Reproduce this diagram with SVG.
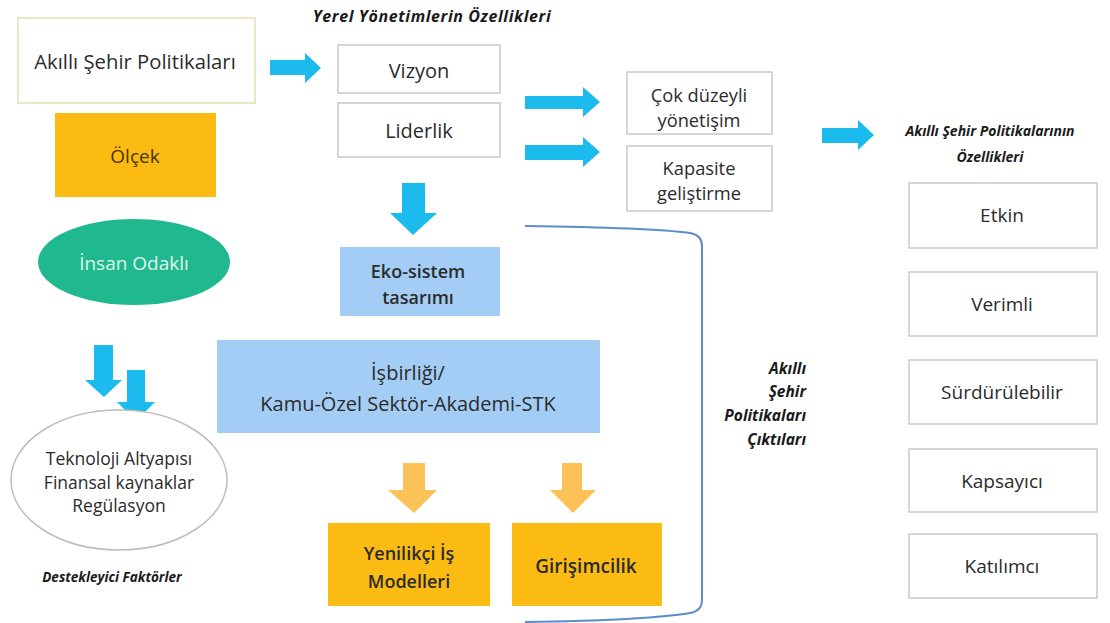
<svg xmlns="http://www.w3.org/2000/svg" width="1110" height="623" viewBox="0 0 1110 623">
  <style>
    .txt { font-family: "Open Sans", Lato, "Liberation Sans", sans-serif; fill: #2b2b2b; text-anchor: middle; dominant-baseline: central; }
    .lbl { font-family: "Open Sans", Lato, "Liberation Sans", sans-serif; font-weight: 700; font-style: italic; fill: #1a1a1a; }
    .plain { fill: #ffffff; stroke: #c9c9c9; stroke-width: 1.5; }
    .blue { fill: #a3cdf4; }
    .amber { fill: #fbbb12; }
    .arrow-blue { fill: #1cbbee; }
    .arrow-amber { fill: #fdc257; }
  </style>

  <rect width="1110" height="623" fill="#ffffff"/>

  <!-- section labels -->
  <text class="lbl" x="432" y="16" font-size="16" letter-spacing="0.6" text-anchor="middle" dominant-baseline="central">Yerel Yönetimlerin  Özellikleri</text>
  <text class="lbl" x="990" y="130" font-size="14" text-anchor="middle" dominant-baseline="central">Akıllı Şehir Politikalarının</text>
  <text class="lbl" x="990" y="156" font-size="14" text-anchor="middle" dominant-baseline="central">Özellikleri</text>
  <text class="lbl" x="112" y="577" font-size="13.5" text-anchor="middle" dominant-baseline="central">Destekleyici Faktörler</text>
  <g class="lbl" font-size="15.5" text-anchor="end" dominant-baseline="central">
    <text x="806" y="368">Akıllı</text>
    <text x="806" y="391">Şehir</text>
    <text x="806" y="415">Politikaları</text>
    <text x="806" y="439">Çıktıları</text>
  </g>

  <!-- connectors -->
  <g id="connectors">
    <!-- bracket around outputs -->
    <path d="M525 226 C600 227 660 229 690 233 Q702 235 702 246 L702 600 Q702 611 690 613 C660 618 600 621 525 622" fill="none" stroke="#5c8dc9" stroke-width="2"/>
    <!-- blue block arrows -->
    <polygon class="arrow-blue" points="270,60 305,60 305,53 321,68 305,83 305,75 270,75"/>
    <polygon class="arrow-blue" points="525,96 583,96 583,87 600,102 583,117 583,109 525,109"/>
    <polygon class="arrow-blue" points="525,145 583,145 583,137 600,152 583,167 583,160 525,160"/>
    <polygon class="arrow-blue" points="822,128 858,128 858,120 874,135 858,150 858,143 822,143"/>
    <polygon class="arrow-blue" points="402,183 425,183 425,213 437,213 413,235 390,213 402,213"/>
    <polygon class="arrow-blue" points="94,345 113,345 113,380 122,380 104,397 85,380 94,380"/>
    <polygon class="arrow-blue" points="127,370 145,370 145,402 155,402 136,421 117,402 127,402"/>
    <!-- amber block arrows -->
    <polygon class="arrow-amber" points="403,463 425,463 425,490 437,490 414,513 388,490 403,490"/>
    <polygon class="arrow-amber" points="562,463 582,463 582,490 596,490 573,513 550,490 562,490"/>
  </g>

  <g id="akilli-sehir-politikalari">
    <rect x="18" y="18" width="237" height="85" fill="#ffffff" stroke="#e6e0b2" stroke-width="1.5"/>
    <text class="txt" x="135" y="61" font-size="20.3">Akıllı Şehir Politikaları</text>
  </g>

  <g id="olcek">
    <rect class="amber" x="55" y="113" width="161" height="84"/>
    <text class="txt" x="135" y="156" font-size="19" style="fill:#4a3300">Ölçek</text>
  </g>

  <g id="insan-odakli">
    <ellipse cx="134" cy="262" rx="96" ry="43" fill="#20b98f"/>
    <text class="txt" x="134" y="263" font-size="19" style="fill:#dff5ea">İnsan Odaklı</text>
  </g>

  <g id="destekleyici">
    <ellipse cx="119" cy="480" rx="108" ry="70" fill="#ffffff" stroke="#bdbdbd" stroke-width="1.5"/>
    <text class="txt" x="119" y="458" font-size="17.5">Teknoloji Altyapısı</text>
    <text class="txt" x="119" y="482" font-size="17.5">Finansal kaynaklar</text>
    <text class="txt" x="119" y="505" font-size="17.5">Regülasyon</text>
  </g>

  <g id="vizyon">
    <rect class="plain" x="338" y="45" width="162" height="48"/>
    <text class="txt" x="419" y="70" font-size="20">Vizyon</text>
  </g>

  <g id="liderlik">
    <rect class="plain" x="338" y="103" width="162" height="54"/>
    <text class="txt" x="419" y="130" font-size="20">Liderlik</text>
  </g>

  <g id="eko-sistem">
    <rect class="blue" x="340" y="247" width="160" height="69"/>
    <text class="txt" x="418" y="271" font-size="18" font-weight="600">Eko-sistem</text>
    <text class="txt" x="418" y="297" font-size="18" font-weight="600">tasarımı</text>
  </g>

  <g id="isbirligi">
    <rect class="blue" x="217" y="340" width="383" height="93"/>
    <text class="txt" x="408" y="372" font-size="20">İşbirliği/</text>
    <text class="txt" x="408" y="403" font-size="20">Kamu-Özel Sektör-Akademi-STK</text>
  </g>

  <g id="yenilikci">
    <rect class="amber" x="328" y="523" width="162" height="83"/>
    <text class="txt" x="409" y="553" font-size="18" font-weight="600">Yenilikçi İş</text>
    <text class="txt" x="409" y="581" font-size="18" font-weight="600">Modelleri</text>
  </g>

  <g id="girisimcilik">
    <rect class="amber" x="512" y="523" width="150" height="83"/>
    <text class="txt" x="586" y="566" font-size="19" font-weight="600">Girişimcilik</text>
  </g>

  <g id="cok-duzeyli">
    <rect class="plain" x="627" y="72" width="145" height="62"/>
    <text class="txt" x="699" y="94" font-size="18.3">Çok düzeyli</text>
    <text class="txt" x="699" y="119" font-size="18.3">yönetişim</text>
  </g>

  <g id="kapasite">
    <rect class="plain" x="627" y="146" width="145" height="65"/>
    <text class="txt" x="699" y="167" font-size="18.3">Kapasite</text>
    <text class="txt" x="699" y="192" font-size="18.3">geliştirme</text>
  </g>

  <g id="etkin">
    <rect class="plain" x="909" y="183" width="188" height="65"/>
    <text class="txt" x="1002" y="215" font-size="19">Etkin</text>
  </g>

  <g id="verimli">
    <rect class="plain" x="909" y="272" width="188" height="64"/>
    <text class="txt" x="1002" y="304" font-size="19">Verimli</text>
  </g>

  <g id="surdurulebilir">
    <rect class="plain" x="909" y="360" width="188" height="64"/>
    <text class="txt" x="1002" y="392" font-size="19">Sürdürülebilir</text>
  </g>

  <g id="kapsayici">
    <rect class="plain" x="909" y="449" width="188" height="63"/>
    <text class="txt" x="1002" y="481" font-size="19">Kapsayıcı</text>
  </g>

  <g id="katilimci">
    <rect class="plain" x="909" y="534" width="188" height="64"/>
    <text class="txt" x="1002" y="566" font-size="19">Katılımcı</text>
  </g>
</svg>
